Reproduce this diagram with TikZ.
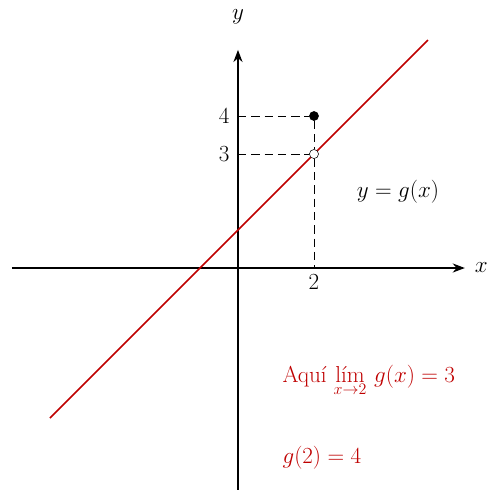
\documentclass[tikz,border=0pt]{standalone}
\usepackage{xcolor}
\usepackage{tikz}
\usetikzlibrary{arrows.meta,positioning}

\begin{document}
\begin{tikzpicture}[
  font=\LARGE,
  axis/.style={-{Stealth[length=3.2mm,width=2.4mm]}, line width=1pt},
  guide/.style={dashed, dash pattern=on 2.2mm off 1.3mm, line width=0.5pt},
  graph/.style={line width=1.1pt, red!75!black},
  dotfull/.style={circle, fill=black, draw=black, inner sep=0pt, minimum size=2.4mm},
  dotopen/.style={circle, fill=white, draw=black, inner sep=0pt, minimum size=2.4mm},
  note/.style={red!75!black, anchor=base west},
]
  \useasboundingbox (-6.263,-5.921) rectangle (6.553,7.053);
  % axes
  \coordinate (xl) at (-5.95,0);
  \coordinate (xr) at (5.97,0);
  \coordinate (yb) at (0,-5.84);
  \coordinate (yt) at (0,5.74);
  \draw[axis] (xl) -- (xr);
  \draw[axis] (yb) -- (yt);
  \node (xlab) at (6.4,0) {$x$};
  \node (ylab) at (0,6.6) {$y$};
  % graph of g
  \coordinate (ga) at (-4.95,-3.95);
  \coordinate (gb) at (5,6);
  \draw[graph] (ga) -- (gb);
  % guides
  \coordinate (y4) at (0,4);
  \coordinate (y3) at (0,3);
  \coordinate (x2) at (2,0);
  \node[dotfull] (full) at (2,4) {};
  \node[dotopen] (open) at (2,3) {};
  \draw[guide] (y4) -- (full);
  \draw[guide] (y3) -- (open);
  \draw[guide] (full) -- (open);
  \draw[guide] (open) -- (x2);
  \node[left=1mm of y4] (t4) {$4$};
  \node[left=1mm of y3] (t3) {$3$};
  \node[below=0.5mm of x2] (t2) {$2$};
  % labels
  \node (eq) at (4.21,2.0) {$y=g(x)$};
  \node[note] (lim) at (1.05,-3.0) {Aquí $\displaystyle\mathop{\mbox{lím}}_{x\to2}\,g(x)=3$};
  \node[note] (val) at (1.05,-5.15) {$g(2)=4$};
\end{tikzpicture}
\end{document}
